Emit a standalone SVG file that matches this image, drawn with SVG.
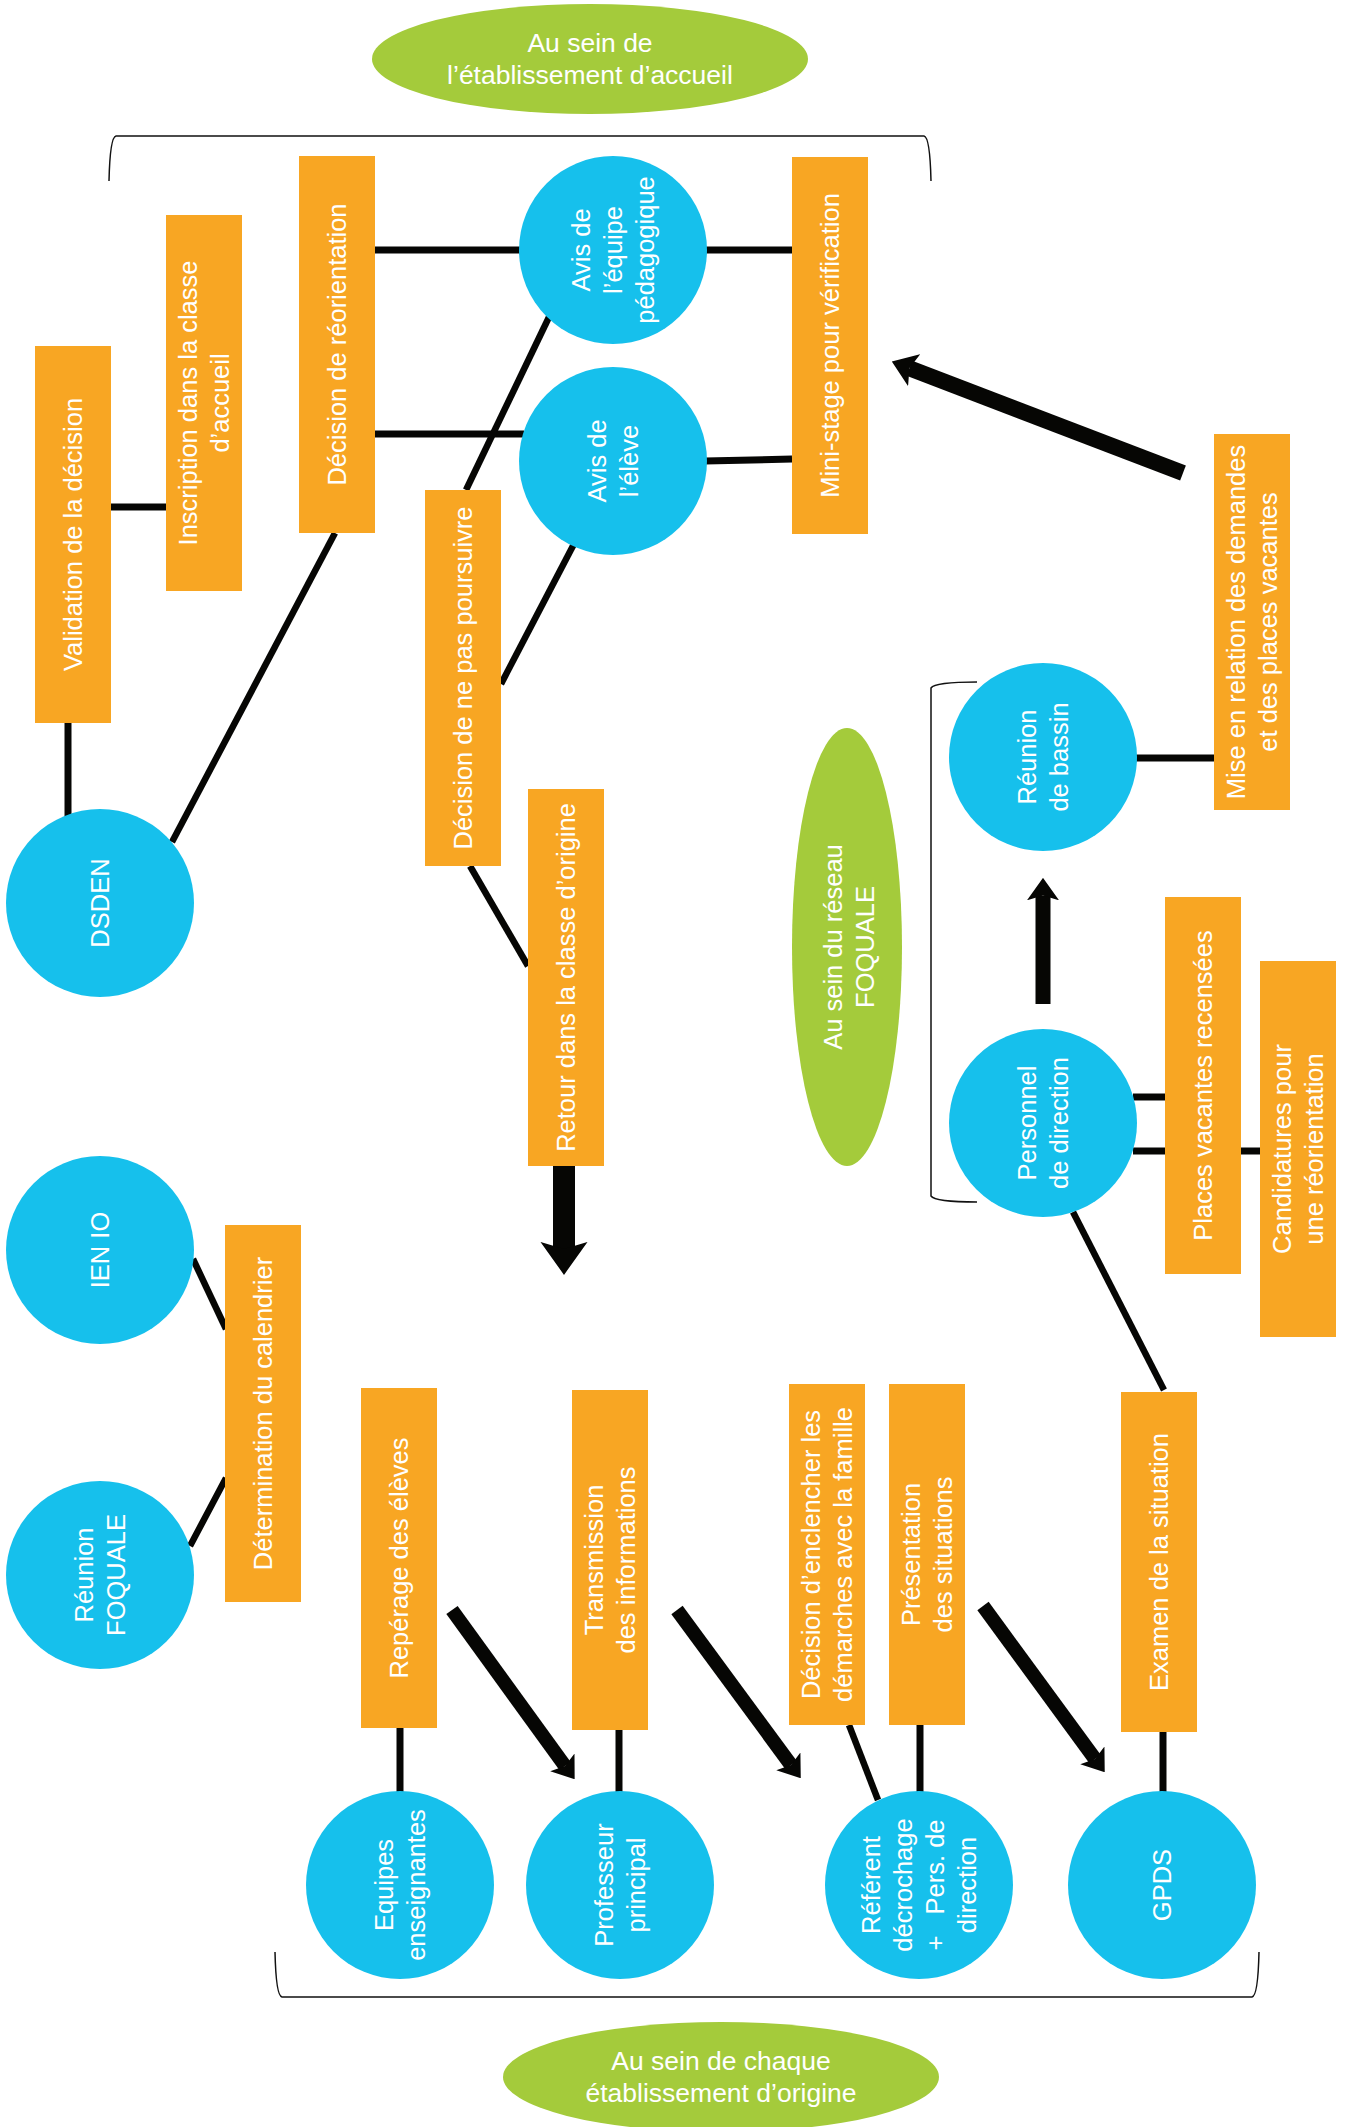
<svg xmlns="http://www.w3.org/2000/svg" width="1351" height="2127" viewBox="0 0 1351 2127">
<style>
.box{fill:#F8A623}
.cir{fill:#16C0EC}
.grn{fill:#A4CB3B}
.t{font-family:'Liberation Sans',Arial,sans-serif;font-size:25.5px;fill:#FFFFFF;text-anchor:middle}
.e{font-size:26.5px}
.c{stroke:#060604;stroke-width:7;fill:none}
.d{stroke:#060604;stroke-width:6.5;fill:none}
.br{stroke:#111111;stroke-width:1.5;fill:none}
.ar{stroke:#060604;fill:none;marker-end:url(#ah)}
</style>
<defs>
<marker id="ah" viewBox="0 0 14 20" refX="3" refY="10" markerWidth="1.5" markerHeight="2.14" markerUnits="strokeWidth" orient="auto">
<path d="M0,0 L14,10 L0,20 L3,10 Z" fill="#060604"/>
</marker>
</defs>
<rect width="1351" height="2127" fill="#FFFFFF"/>

<g id="brackets">
<path class="br" d="M109,181 Q110,137 116,136 H924 Q930,137 931,181"/>
<path class="br" d="M977,682 Q935,682 931,688 V1196 Q935,1202 977,1202"/>
<path class="br" d="M275,1952 Q276,1996 282,1997 H1252 Q1258,1996 1259,1952"/>
</g>

<g id="connectors">
<line class="c" x1="375" y1="250" x2="522" y2="250"/>
<line class="c" x1="705" y1="250" x2="792" y2="250"/>
<line class="c" x1="375" y1="434" x2="524" y2="434"/>
<line class="c" x1="705" y1="461" x2="792" y2="459"/>
<line class="c" x1="111" y1="507" x2="166" y2="507"/>
<line class="c" x1="68" y1="723" x2="68" y2="818"/>
<line class="d" x1="335" y1="533" x2="172" y2="842"/>
<line class="d" x1="550" y1="315" x2="466" y2="490"/>
<line class="d" x1="575" y1="542" x2="501" y2="684"/>
<line class="d" x1="470" y1="866" x2="528" y2="966"/>
<line class="c" x1="1135" y1="758" x2="1214" y2="758"/>
<line class="c" x1="1133" y1="1097" x2="1165" y2="1097"/>
<line class="c" x1="1133" y1="1151" x2="1260" y2="1151"/>
<line class="d" x1="1073" y1="1212" x2="1164" y2="1390"/>
<line class="d" x1="193" y1="1259" x2="226" y2="1329"/>
<line class="d" x1="190" y1="1546" x2="226" y2="1478"/>
<line class="c" x1="400" y1="1728" x2="400" y2="1792"/>
<line class="c" x1="619" y1="1730" x2="619" y2="1792"/>
<line class="d" x1="849" y1="1725" x2="878" y2="1800"/>
<line class="c" x1="920" y1="1725" x2="920" y2="1792"/>
<line class="c" x1="1163" y1="1732" x2="1163" y2="1792"/>
<line class="ar" stroke-width="16" x1="1183" y1="473" x2="909.4" y2="368.3"/>
<line class="ar" stroke-width="22" x1="564" y1="1166" x2="564" y2="1249"/>
<line class="ar" stroke-width="15" x1="1043" y1="1004" x2="1043" y2="895.5"/>
<line class="ar" stroke-width="14" x1="452" y1="1610" x2="565" y2="1766"/>
<line class="ar" stroke-width="14" x1="677" y1="1610" x2="791" y2="1765"/>
<line class="ar" stroke-width="14" x1="983" y1="1606" x2="1095" y2="1759"/>
</g>

<g id="label-accueil">
<ellipse class="grn" cx="590" cy="59" rx="218" ry="55"/>
<text class="t e"><tspan x="590" y="52">Au sein de</tspan><tspan x="590" y="84">l’établissement d’accueil</tspan></text>
</g>
<g id="label-reseau">
<ellipse class="grn" cx="847" cy="947" rx="55" ry="219"/>
<text class="t" transform="translate(849,947) rotate(-90)"><tspan x="0" y="-7">Au sein du réseau</tspan><tspan x="0" y="25">FOQUALE</tspan></text>
</g>
<g id="label-origine">
<ellipse class="grn" cx="721" cy="2077" rx="218" ry="55"/>
<text class="t e"><tspan x="721" y="2070">Au sein de chaque</tspan><tspan x="721" y="2102">établissement d’origine</tspan></text>
</g>

<g id="validation">
<rect class="box" x="35" y="346" width="76" height="377"/>
<text class="t" transform="translate(73,534.5) rotate(-90)"><tspan x="0" y="9">Validation de la décision</tspan></text>
</g>
<g id="inscription">
<rect class="box" x="166" y="215" width="76" height="376"/>
<text class="t" transform="translate(204,403) rotate(-90)"><tspan x="0" y="-7">Inscription dans la classe</tspan><tspan x="0" y="25">d’accueil</tspan></text>
</g>
<g id="decision-reorientation">
<rect class="box" x="299" y="156" width="76" height="377"/>
<text class="t" transform="translate(337,344.5) rotate(-90)"><tspan x="0" y="9">Décision de réorientation</tspan></text>
</g>
<g id="mini-stage">
<rect class="box" x="792" y="157" width="76" height="377"/>
<text class="t" transform="translate(830,345.5) rotate(-90)"><tspan x="0" y="9">Mini-stage pour vérification</tspan></text>
</g>
<g id="decision-ne-pas-poursuivre">
<rect class="box" x="425" y="490" width="76" height="376"/>
<text class="t" transform="translate(463,678) rotate(-90)"><tspan x="0" y="9">Décision de ne pas poursuivre</tspan></text>
</g>
<g id="retour">
<rect class="box" x="528" y="789" width="76" height="377"/>
<text class="t" transform="translate(566,977.5) rotate(-90)"><tspan x="0" y="9">Retour dans la classe d’origine</tspan></text>
</g>
<g id="mise-en-relation">
<rect class="box" x="1214" y="434" width="76" height="376"/>
<text class="t" transform="translate(1252,622) rotate(-90)"><tspan x="0" y="-7">Mise en relation des demandes</tspan><tspan x="0" y="25">et des places vacantes</tspan></text>
</g>
<g id="places-vacantes">
<rect class="box" x="1165" y="897" width="76" height="377"/>
<text class="t" transform="translate(1203,1085.5) rotate(-90)"><tspan x="0" y="9">Places vacantes recensées</tspan></text>
</g>
<g id="candidatures">
<rect class="box" x="1260" y="961" width="76" height="376"/>
<text class="t" transform="translate(1298,1149) rotate(-90)"><tspan x="0" y="-7">Candidatures pour</tspan><tspan x="0" y="25">une réorientation</tspan></text>
</g>
<g id="determination">
<rect class="box" x="225" y="1225" width="76" height="377"/>
<text class="t" transform="translate(263,1413.5) rotate(-90)"><tspan x="0" y="9">Détermination du calendrier</tspan></text>
</g>
<g id="reperage">
<rect class="box" x="361" y="1388" width="76" height="340"/>
<text class="t" transform="translate(399,1558) rotate(-90)"><tspan x="0" y="9">Repérage des élèves</tspan></text>
</g>
<g id="transmission">
<rect class="box" x="572" y="1390" width="76" height="340"/>
<text class="t" transform="translate(610,1560) rotate(-90)"><tspan x="0" y="-7">Transmission</tspan><tspan x="0" y="25">des informations</tspan></text>
</g>
<g id="decision-enclencher">
<rect class="box" x="789" y="1384" width="76" height="341"/>
<text class="t" transform="translate(827,1554.5) rotate(-90)"><tspan x="0" y="-7">Décision d’enclencher les</tspan><tspan x="0" y="25">démarches avec la famille</tspan></text>
</g>
<g id="presentation">
<rect class="box" x="889" y="1384" width="76" height="341"/>
<text class="t" transform="translate(927,1554.5) rotate(-90)"><tspan x="0" y="-7">Présentation</tspan><tspan x="0" y="25">des situations</tspan></text>
</g>
<g id="examen">
<rect class="box" x="1121" y="1392" width="76" height="340"/>
<text class="t" transform="translate(1159,1562) rotate(-90)"><tspan x="0" y="9">Examen de la situation</tspan></text>
</g>

<g id="avis-equipe">
<circle class="cir" cx="613" cy="250" r="94"/>
<text class="t" transform="translate(613,250) rotate(-90)"><tspan x="0" y="-23">Avis de</tspan><tspan x="0" y="9">l’équipe</tspan><tspan x="0" y="41">pédagogique</tspan></text>
</g>
<g id="avis-eleve">
<circle class="cir" cx="613" cy="461" r="94"/>
<text class="t" transform="translate(613,461) rotate(-90)"><tspan x="0" y="-7">Avis de</tspan><tspan x="0" y="25">l’élève</tspan></text>
</g>
<g id="dsden">
<circle class="cir" cx="100" cy="903" r="94"/>
<text class="t" transform="translate(100,903) rotate(-90)"><tspan x="0" y="9">DSDEN</tspan></text>
</g>
<g id="reunion-bassin">
<circle class="cir" cx="1043" cy="757" r="94"/>
<text class="t" transform="translate(1043,757) rotate(-90)"><tspan x="0" y="-7">Réunion</tspan><tspan x="0" y="25">de bassin</tspan></text>
</g>
<g id="personnel-direction">
<circle class="cir" cx="1043" cy="1123" r="94"/>
<text class="t" transform="translate(1043,1123) rotate(-90)"><tspan x="0" y="-7">Personnel</tspan><tspan x="0" y="25">de direction</tspan></text>
</g>
<g id="ien-io">
<circle class="cir" cx="100" cy="1250" r="94"/>
<text class="t" transform="translate(100,1250) rotate(-90)"><tspan x="0" y="9">IEN IO</tspan></text>
</g>
<g id="reunion-foquale">
<circle class="cir" cx="100" cy="1575" r="94"/>
<text class="t" transform="translate(100,1575) rotate(-90)"><tspan x="0" y="-7">Réunion</tspan><tspan x="0" y="25">FOQUALE</tspan></text>
</g>
<g id="equipes">
<circle class="cir" cx="400" cy="1885" r="94"/>
<text class="t" transform="translate(400,1885) rotate(-90)"><tspan x="0" y="-7">Equipes</tspan><tspan x="0" y="25">enseignantes</tspan></text>
</g>
<g id="professeur">
<circle class="cir" cx="620" cy="1885" r="94"/>
<text class="t" transform="translate(620,1885) rotate(-90)"><tspan x="0" y="-7">Professeur</tspan><tspan x="0" y="25">principal</tspan></text>
</g>
<g id="referent">
<circle class="cir" cx="919" cy="1885" r="94"/>
<text class="t" transform="translate(919,1885) rotate(-90)"><tspan x="0" y="-39">Référent</tspan><tspan x="0" y="-7">décrochage</tspan><tspan x="0" y="25">+&#160;&#160;&#160;Pers. de</tspan><tspan x="0" y="57">direction</tspan></text>
</g>
<g id="gpds">
<circle class="cir" cx="1162" cy="1885" r="94"/>
<text class="t" transform="translate(1162,1885) rotate(-90)"><tspan x="0" y="9">GPDS</tspan></text>
</g>
</svg>
